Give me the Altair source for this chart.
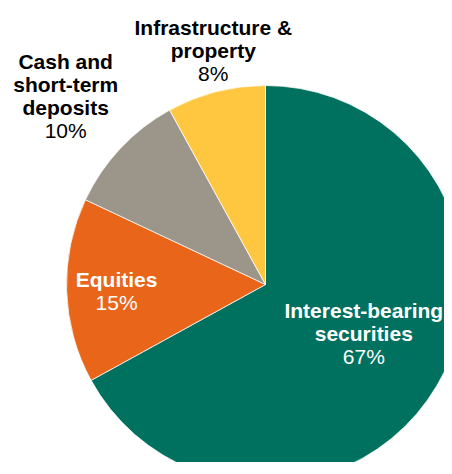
import altair as alt
import pandas as pd

categories = ["Interest-bearing securities", "Equities", "Cash and short-term deposits", "Infrastructure & property"]
values = [67, 15, 10, 8]
names = ["Interest-bearing\nsecurities", "Equities", "Cash and\nshort-term\ndeposits", "Infrastructure &\nproperty"]
slice_colors = ["#00705F", "#E8651A", "#9C958A", "#FEC73F"]
label_colors = ["#FFFFFF", "#FFFFFF", "#000000", "#000000"]
label_radius = [120, 149, 259, 226]
label_dx = [-5, 0, -11, 4]
label_dy = [0, 3, 13, -3]

LINE_H = 23
df = pd.DataFrame({"category": categories, "value": values, "name": names, "idx": list(range(len(values)))})

CX, CY = 257.5, 276.5

base = (
    alt.Chart(df)
    .transform_joinaggregate(total="sum(value)")
    .transform_window(cum="sum(value)", sort=[alt.SortField("idx")], frame=[None, 0])
    .transform_calculate(
        start="(datum.cum - datum.value) / datum.total * 2 * PI",
        end="datum.cum / datum.total * 2 * PI",
        mid="(datum.cum - datum.value / 2) / datum.total * 2 * PI",
        pct="datum.value + '%'",
    )
)

pie = base.mark_arc(radius=199, stroke="white", strokeWidth=0.75).encode(
    theta=alt.Theta("start:Q", scale=None),
    theta2="end:Q",
    color=alt.Color("category:N", scale=alt.Scale(domain=categories, range=slice_colors), legend=None),
    x=alt.value(CX),
    y=alt.value(CY),
)

layers = [pie]
for i, cat in enumerate(categories):
    n_lines = len(names[i].split("\n"))
    common = dict(
        radius=label_radius[i], dx=label_dx[i], align="center",
        font="Liberation Sans", fontSize=21, lineHeight=LINE_H, color=label_colors[i], lineBreak="\n",
    )
    sub = base.transform_filter(alt.datum.category == cat)
    layers.append(
        sub.mark_text(baseline="line-bottom", fontWeight="bold",
                      dy=label_dy[i] - (n_lines - 1) * LINE_H, **common).encode(
            theta=alt.Theta("mid:Q", scale=None), text="name:N", x=alt.value(CX), y=alt.value(CY)
        )
    )
    layers.append(
        sub.mark_text(baseline="line-top", dy=label_dy[i], **common).encode(
            theta=alt.Theta("mid:Q", scale=None), text="pct:N", x=alt.value(CX), y=alt.value(CY)
        )
    )

chart = (
    alt.layer(*layers)
    .properties(width=436, height=454, autosize=alt.AutoSizeParams(type="none"), padding=0)
    .configure_view(stroke=None)
)

chart.save("out.html", embed_options={"renderer": "svg", "actions": False})
